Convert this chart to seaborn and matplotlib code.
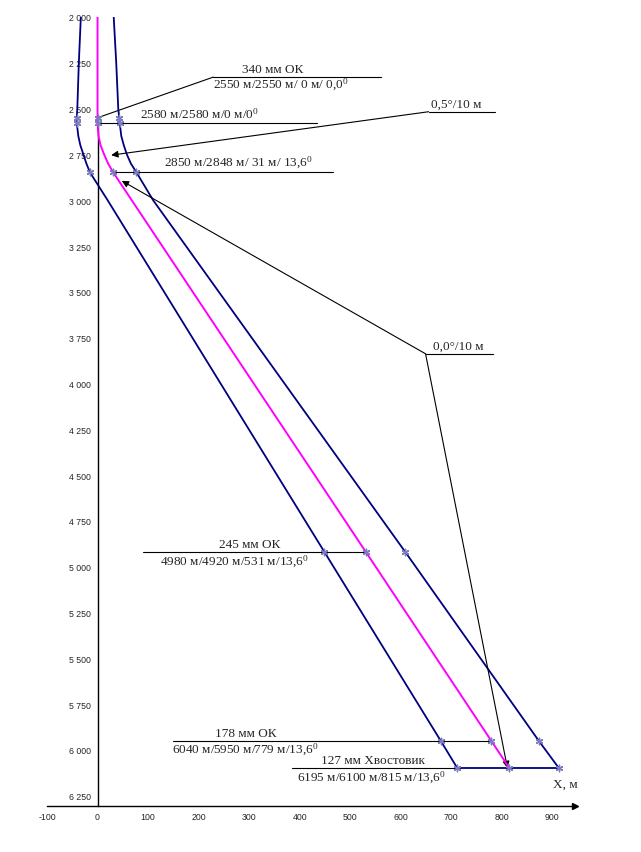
import matplotlib
matplotlib.use("Agg")
import matplotlib.pyplot as plt
import seaborn as sns
import numpy as np
import pandas as pd
from matplotlib.ticker import FuncFormatter

sns.set_style("white")
plt.rcParams['font.family'] = ['Liberation Sans', 'DejaVu Sans']
plt.rcParams['axes.unicode_minus'] = False
plt.rcParams['mathtext.fontset'] = 'custom'
plt.rcParams['mathtext.rm'] = 'Liberation Serif'
plt.rcParams['mathtext.it'] = 'Liberation Serif:italic'
SERIF = ['Liberation Serif', 'DejaVu Serif']

# trajectory (TVD, m) and horizontal offset X (m)
tvd_c = [2000, 2550, 2580, 2650, 2700, 2750, 2800, 2848, 4920, 5950, 6100]
x_c = [0, 0, 0, 2, 6, 13, 21, 31, 531, 779, 815]

# uncertainty envelope, left and right
tvd_e = [2000, 2250, 2500, 2550, 2580, 2650, 2700, 2750, 2800, 2848, 3000, 4920, 5950, 6100]
x_l = [-33, -37, -40, -41, -41, -38, -34, -28, -22, -15, 20, 449, 679, 712]
x_r = [32, 37, 41, 43, 44, 47, 52, 58, 66, 77, 110, 609, 873, 913]

# marked points
mark_tvd = [2550, 2580, 2848, 4920, 5950, 6100]

ticks_y = list(range(2000, 6251, 250))
ticks_x = list(range(-100, 901, 100))

NAVY = '#000080'
MAG = '#ff00ff'
MK = '#7b7bbd'

fig = plt.figure(figsize=(6.41, 8.53), dpi=100)
ax = fig.add_axes([0.0733, 0.0539, 0.824, 0.925])

sns.lineplot(x=x_l, y=tvd_e, sort=False, estimator=None, color=NAVY, lw=1.3, ax=ax, zorder=3)
sns.lineplot(x=x_r, y=tvd_e, sort=False, estimator=None, color=NAVY, lw=1.3, ax=ax, zorder=3)
sns.lineplot(x=[x_l[-1], x_r[-1]], y=[tvd_e[-1], tvd_e[-1]], sort=False,
             estimator=None, color=NAVY, lw=1.3, ax=ax, zorder=3)
sns.lineplot(x=x_c, y=tvd_c, sort=False, estimator=None, color=MAG, lw=1.4, ax=ax, zorder=4)

# markers
pts = []
for xs, ts in ((x_l, tvd_e), (x_r, tvd_e), (x_c, tvd_c)):
    for xv, tv in zip(xs, ts):
        if tv in mark_tvd:
            pts.append((xv, tv))
pts = pd.DataFrame(pts, columns=['x', 'tvd'])
sns.scatterplot(data=pts, x='x', y='tvd', marker=(6, 2, 0), s=22, color=MK,
                linewidth=1.0, ax=ax, zorder=5)

# axes
ax.set_xlim(-100, 945)
ax.set_ylim(6306, 2000)
ax.spines['top'].set_visible(False)
ax.spines['right'].set_visible(False)
ax.spines['left'].set_position(('data', 0))
ax.spines['left'].set_bounds(2580, 6306)  # above kick-off the trajectory covers the axis
for s in ('left', 'bottom'):
    ax.spines[s].set_linewidth(1.0)
    ax.spines[s].set_color('black')
ax.set_yticks(ticks_y)
ax.set_xticks(ticks_x)
ax.yaxis.set_major_formatter(FuncFormatter(lambda v, p: f"{int(v):,}".replace(',', ' ')))
ax.tick_params(axis='y', direction='out', length=3, width=0.8, labelsize=6.3, pad=2)
ax.tick_params(axis='x', direction='in', length=3, width=0.8, labelsize=6.3, pad=4)
ax.set_xlabel('')
ax.set_ylabel('')
ax.plot(1, 0, '>k', transform=ax.transAxes, clip_on=False, markersize=5)
ax.text(902, 6182, 'X, м', family=SERIF, fontsize=9.5, ha='left', va='center')

fs = 9.5
lk = dict(color='black', lw=0.8)
deg = '$^0$'

def hline(x0, x1, y):
    ax.plot([x0, x1], [y, y], **lk)

def arrow(tip, start):
    ax.annotate('', xy=tip, xytext=start,
                arrowprops=dict(arrowstyle='-|>', color='black', lw=0.8, mutation_scale=10,
                                shrinkA=0, shrinkB=0))

# 340 mm casing
ax.plot([0, 229], [2550, 2328], **lk)
hline(229, 561, 2328)
ax.text(346, 2318, '340 мм ОК', family=SERIF, fontsize=fs, ha='center', va='bottom')
ax.text(229, 2322, '2550 м/2550 м/ 0 м/ 0,0' + deg, family=SERIF, fontsize=fs, ha='left', va='top')

# kick-off
hline(0, 435, 2580)
ax.text(84, 2568, '2580 м/2580 м/0 м/0' + deg, family=SERIF, fontsize=fs, ha='left', va='bottom')

# build rate
hline(655, 787, 2517)
ax.text(659, 2506, '0,5°/10 м', family=SERIF, fontsize=fs, ha='left', va='bottom')
arrow((27, 2754), (655, 2517))

# end of build
hline(31, 466, 2848)
ax.text(132, 2836, '2850 м/2848 м/ 31 м/ 13,6' + deg, family=SERIF, fontsize=fs, ha='left', va='bottom')

# hold
hline(649, 782, 3838)
ax.text(663, 3826, '0,0°/10 м', family=SERIF, fontsize=fs, ha='left', va='bottom')
for tip in ((48, 2894), (811, 6099)):
    arrow(tip, (649, 3838))

# 245 mm
hline(90, 531, 4920)
ax.text(302, 4910, '245 мм ОК', family=SERIF, fontsize=fs, ha='center', va='bottom')
ax.text(123, 4922, '4980 м/4920 м/531 м/13,6' + deg, family=SERIF, fontsize=fs, ha='left', va='top')

# 178 mm
hline(150, 779, 5950)
ax.text(294, 5940, '178 мм ОК', family=SERIF, fontsize=fs, ha='center', va='bottom')
ax.text(148, 5952, '6040 м/5950 м/779 м/13,6' + deg, family=SERIF, fontsize=fs, ha='left', va='top')

# 127 mm liner
hline(385, 712, 6100)
ax.text(546, 6090, '127 мм Хвостовик', family=SERIF, fontsize=fs, ha='center', va='bottom')
ax.text(395, 6102, '6195 м/6100 м/815 м/13,6' + deg, family=SERIF, fontsize=fs, ha='left', va='top')

fig.savefig('out.png', dpi=100)
